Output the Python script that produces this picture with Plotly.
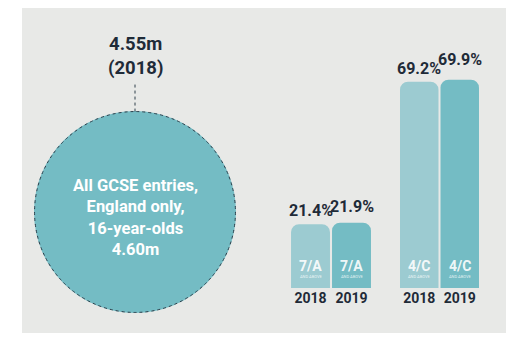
import math
import plotly.graph_objects as go

# ---------------- data ----------------
years = ["2018", "2019"]
grade_7a = [21.4, 21.9]          # % achieving 7/A and above
grade_4c = [69.2, 69.9]          # % achieving 4/C and above
group_labels = ["7/A", "4/C"]
sub_label = "AND ABOVE"
entries_2018 = 4.55              # millions
entries_2019 = 4.60              # millions
circle_text = ["All GCSE entries,", "England only,", "16-year-olds", "4.60m"]
prev_label = ["4.55m", "(2018)"]

# ---------------- style ----------------
W, H = 518, 348
PANEL = "#e8e9e7"
LIGHT = "#9ccbd1"
DARK = "#74bcc4"
TEXT = "#1f2b38"
FONT = "Roboto"
label_lift_7a = [0, 3]   # extra px lift so neighbouring labels don't collide
label_lift_4c = [0, 7]


def fx(p):
    return p / W


def fy(p):
    return 1 - p / H


fig = go.Figure()

idx = list(range(len(years)))
bar_colors = [LIGHT, DARK]
fig.add_trace(go.Bar(x=idx, y=grade_7a, marker=dict(color=bar_colors, cornerradius=8, line=dict(width=0)),
                     xaxis="x", yaxis="y", hoverinfo="skip", showlegend=False))
fig.add_trace(go.Bar(x=idx, y=grade_4c, marker=dict(color=bar_colors, cornerradius=8, line=dict(width=0)),
                     xaxis="x2", yaxis="y", hoverinfo="skip", showlegend=False))

px_per_pct = 2.98
y_top_px, y_bot_px = 8, 288
y_range = [0, (y_bot_px - y_top_px) / px_per_pct]

axis_common = dict(type="linear", range=[-0.5, len(years) - 0.5], tickmode="array", tickvals=idx,
                   ticktext=years, showgrid=False, zeroline=False, showline=False, ticks="",
                   automargin=False,
                   tickfont=dict(family=FONT, size=14, color=TEXT, weight=700), fixedrange=True)
layout = dict(
    width=W, height=H, margin=dict(l=0, r=0, t=0, b=0, autoexpand=False),
    paper_bgcolor="white", plot_bgcolor="rgba(0,0,0,0)",
    bargap=0.05, showlegend=False,
    xaxis=dict(domain=[fx(290), fx(372)], anchor="y", **axis_common),
    xaxis2=dict(domain=[fx(399), fx(480)], anchor="y", **axis_common),
    yaxis=dict(domain=[fy(y_bot_px), fy(y_top_px)], range=y_range, visible=False, fixedrange=True),
)

# circle subplot (area-proportional radius)
r_px = 101
scale = r_px / math.sqrt(entries_2019)   # px per unit of sqrt(millions)
cx_px, cy_px = 135, 212
left_px, right_px, top_px, bot_px = 22, 250, 8, 333
layout["xaxis3"] = dict(domain=[fx(left_px), fx(right_px)],
                        range=[-(cx_px - left_px) / scale, (right_px - cx_px) / scale],
                        visible=False, anchor="y3", fixedrange=True)
layout["yaxis3"] = dict(domain=[fy(bot_px), fy(top_px)],
                        range=[-(bot_px - cy_px) / scale, (cy_px - top_px) / scale],
                        visible=False, anchor="x3", fixedrange=True)
fig.add_trace(go.Scatter(x=[0], y=[0], mode="markers", marker=dict(opacity=0), xaxis="x3", yaxis="y3",
                         hoverinfo="skip", showlegend=False))

fig.update_layout(**layout)

shapes = [dict(type="rect", xref="paper", yref="paper", x0=fx(22), x1=fx(506), y0=fy(333), y1=fy(8),
               fillcolor=PANEL, line=dict(width=0), layer="below")]
r19 = math.sqrt(entries_2019)
r18 = math.sqrt(entries_2018)
shapes.append(dict(type="circle", xref="x3", yref="y3", x0=-r19, x1=r19, y0=-r19, y1=r19,
                   fillcolor=DARK, line=dict(width=0), layer="below"))
shapes.append(dict(type="circle", xref="x3", yref="y3", x0=-r18, x1=r18, y0=-r18, y1=r18,
                   fillcolor="rgba(0,0,0,0)", line=dict(width=1, color="#2e3e4a", dash="dot")))
line_top = r18 + 29 / scale
shapes.append(dict(type="line", xref="x3", yref="y3", x0=0, x1=0, y0=r18, y1=line_top,
                   line=dict(width=1, color="#2e3e4a", dash="dot")))
fig.update_layout(shapes=shapes)

ann = []
ann.append(dict(x=0, y=line_top, xref="x3", yref="y3", yanchor="bottom", yshift=2, showarrow=False,
                text="<br>".join(prev_label), font=dict(family=FONT, size=18.5, color=TEXT, weight=700)))
ann.append(dict(x=0, y=0, xref="x3", yref="y3", yshift=-5, showarrow=False,
                text="<br>".join(circle_text), font=dict(family=FONT, size=16.5, color="white", weight=700)))

for xa, vals, g, lifts in [("x", grade_7a, group_labels[0], label_lift_7a),
                           ("x2", grade_4c, group_labels[1], label_lift_4c)]:
    for i, v, lift in zip(idx, vals, lifts):
        ann.append(dict(x=i, y=v, xref=xa, yref="y", yanchor="bottom", yshift=2 + lift, showarrow=False,
                        text=f"{v:.1f}%", font=dict(family=FONT, size=16, color=TEXT, weight=700)))
        ann.append(dict(x=i, y=0, xref=xa, yref="y", yanchor="bottom", yshift=12, showarrow=False,
                        text=g, font=dict(family=FONT, size=14, color="rgba(255,255,255,0.9)", weight=700)))
        ann.append(dict(x=i, y=0, xref=xa, yref="y", yanchor="bottom", yshift=7, showarrow=False,
                        text=sub_label, font=dict(family=FONT, size=4, color="rgba(255,255,255,0.8)")))
fig.update_layout(annotations=ann)

fig.write_html("out.html")
